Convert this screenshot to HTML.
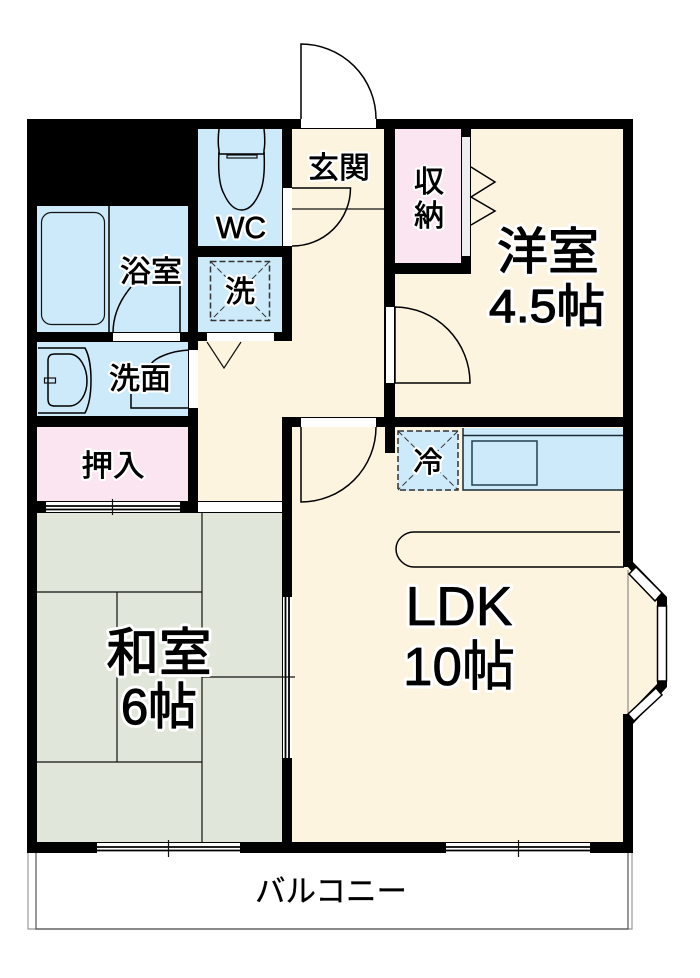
<!DOCTYPE html>
<html><head><meta charset="utf-8">
<style>
html,body{margin:0;padding:0;background:#fff;width:700px;height:978px;overflow:hidden}
svg{display:block}
text{font-family:"Liberation Sans","Noto Sans CJK JP",sans-serif;text-anchor:middle}
.h text{fill:#fff;stroke:#fff;stroke-linejoin:round}
.k text{fill:#000;stroke:#000;stroke-linejoin:round}
.l{fill:none;stroke:#000;stroke-width:1.5}
.m{fill:none;stroke:#000;stroke-width:1.8}
.t{fill:none;stroke:#111;stroke-width:1.2}
.d{fill:none;stroke:#333;stroke-width:1.5;stroke-dasharray:6 3}
.x{fill:none;stroke:#333;stroke-width:1;stroke-dasharray:6 3}
.w{fill:#fff}
.wb{fill:#fff;stroke:#000;stroke-width:1.5}
</style></head><body>
<svg width="700" height="978" viewBox="0 0 700 978" xmlns="http://www.w3.org/2000/svg">
<defs></defs>
<!-- balcony -->
<path d="M28 853V929H632V853" fill="none" stroke="#999" stroke-width="1.2"/>
<path d="M36 853V929H628V853" fill="none" stroke="#555" stroke-width="1.2"/>
<!-- floor fills -->
<rect x="27" y="119" width="606" height="734" fill="#000"/>
<rect x="37" y="206" width="151" height="126" fill="#cdeafa"/>
<rect x="198" y="129" width="84" height="117" fill="#cdeafa"/>
<rect x="198" y="257" width="84" height="75" fill="#cdeafa"/>
<rect x="37" y="342" width="151" height="74" fill="#cdeafa"/>
<rect x="37" y="427" width="151" height="74" fill="#fbe5f0"/>
<rect x="395" y="129" width="66" height="134" fill="#fbe5f0"/>
<rect x="37" y="513" width="245" height="329" fill="#e0e6d9"/>
<rect x="292" y="129" width="92" height="212" fill="#fdf4e0"/>
<rect x="198" y="341" width="186" height="76" fill="#fdf4e0"/>
<rect x="198" y="417" width="84" height="84" fill="#fdf4e0"/>
<path d="M471 129H623V417H395V274H471Z" fill="#fdf4e0"/>
<rect x="292" y="427" width="331" height="415" fill="#fdf4e0"/>
<!-- bay: opening in the right wall -->
<path d="M620 567H628L657 600V684L628 714H620Z" fill="#fdf4e0"/>
<rect x="385" y="341" width="10" height="76" fill="#000"/>
<rect x="385" y="427" width="10" height="26" fill="#000"/>
<!-- white openings -->
<rect class="w" x="301" y="119" width="75" height="9"/>
<rect class="w" x="283" y="188" width="9" height="58"/>
<rect class="w" x="113" y="333" width="67" height="8"/>
<rect class="w" x="207" y="333" width="67" height="8"/>
<rect class="w" x="189" y="350" width="9" height="58"/>
<rect class="w" x="198" y="502" width="84" height="10"/>
<rect class="w" x="301" y="418" width="75" height="9"/>
<rect class="w" x="386" y="307" width="8" height="76"/>
<rect x="462" y="137" width="8" height="119" fill="#eee"/>
<!-- windows -->
<g>
<rect class="w" x="46" y="502" width="134" height="10"/><path class="m" d="M46 506H180M46 509.500H180"/><path class="t" d="M112.500 499V515"/>
<rect class="w" x="97" y="843" width="143" height="10"/><path class="m" d="M97 847H240M97 850.500H240"/><path class="t" d="M168.500 840V857"/>
<rect class="w" x="446" y="843" width="144" height="10"/><path class="m" d="M446 847H590M446 850.500H590"/><path class="t" d="M518.500 840V857"/>
<rect class="w" x="283" y="597" width="9" height="161"/><path class="m" d="M285.500 597V758M289 597V758"/>
</g>
<!-- tatami -->
<path class="t" d="M202 513V842M37 592H202M117 592V762M37 762H202M202 677H295"/>
<!-- doors -->
<path class="l" d="M301 119V44A75 75 0 0 1 376 119"/>
<path class="l" d="M292 188H350.500A58 58 0 0 1 292 246"/>
<path class="t" d="M292 209H384"/>
<path class="l" d="M395 307A75.500 76 0 0 1 470 383H395Z"/>
<path class="l" d="M376 427A75 75 0 0 1 301 502V427"/>
<path class="l" d="M471 167L495 182L471 197L495 211L471 225"/>
<path class="t" d="M207 342L224 368L241 342"/>
<!-- bath -->
<path d="M109 206V332" stroke="#000" stroke-width="1.5"/>
<rect class="t" x="41.500" y="212.500" width="63" height="112" rx="10"/>
<path class="l" d="M113 333C113 315 120 300 131 287"/>
<path class="l" d="M180 286V333"/>
<!-- WC -->
<path class="l" d="M219 129C218 136 218 146 219 150V154H264V150C265 146 265 136 264 129"/>
<path class="l" d="M219 152C218 170 219 185 224 194C229 205 235 210 241.500 210C248 210 254 205 259 194C264 185 265 170 264 152"/>
<rect class="t" x="227" y="155" width="30" height="3" fill="#cdeafa"/>
<!-- washer -->
<rect class="d" x="210.500" y="261.500" width="59" height="59"/>
<path class="x" d="M211 262L269 320M269 262L211 320"/>
<!-- washbasin -->
<path class="l" d="M38 348H85C93 362 93 398 85 413H38"/>
<path class="l" d="M48 361C48 355 51 354 55 354H69C80 354 87 368 87 381C87 394 80 406 69 406H55C51 406 48 405 48 399Z"/>
<rect class="t" x="44.500" y="378" width="11" height="5" fill="#cdeafa"/>
<path class="l" d="M189 350C170 351 155 358 151 364"/>
<path class="l" d="M131 394V408H188"/>
<!-- fridge -->
<rect x="398" y="431" width="60" height="60" fill="#cdeafa"/>
<rect class="d" x="398" y="431" width="60" height="59" stroke-width="1.7"/>
<path class="x" d="M398 431L458 490M458 431L398 490"/>
<!-- kitchen -->
<rect x="463" y="428" width="160" height="62" fill="#cdeafa"/>
<path d="M463 428V490H623M463 435.500H623" fill="none" stroke="#1a2a33" stroke-width="1.5"/>
<rect x="472" y="441" width="65" height="44" fill="none" stroke="#25404f" stroke-width="1.5"/>
<!-- counter -->
<path class="l" d="M620 532H414C405 532 396 539 396 549C396 559 405 567 414 567H624"/>
<!-- bay window -->
<path d="M628 570V714" stroke="#777" stroke-width="1"/>
<path d="M628 567L633 562L667 597V687L633 724L628 714L657 684V601Z" fill="#000"/>
<path class="wb" d="M636 567L662 593L655 601L629 574Z"/>
<rect class="wb" x="657.500" y="606" width="9" height="75"/>
<path class="wb" d="M656 688L662 695L634 721L628 714Z"/>
<!-- labels: white halo layer -->
<g class="h">
<text x="339" y="178" font-size="30" stroke-width="5" textLength="62" lengthAdjust="spacingAndGlyphs">玄関</text>
<text x="429" y="192" font-size="30" stroke-width="5">収</text>
<text x="429" y="226" font-size="30" stroke-width="5">納</text>
<text x="548" y="269" font-size="50" stroke-width="7" textLength="102" lengthAdjust="spacingAndGlyphs">洋室</text>
<text x="547" y="322" font-size="46" stroke-width="7" textLength="116" lengthAdjust="spacingAndGlyphs">4.5帖</text>
<text x="241" y="238" font-size="31" stroke-width="5" textLength="50" lengthAdjust="spacingAndGlyphs">WC</text>
<text x="151" y="282" font-size="30" stroke-width="5" textLength="62" lengthAdjust="spacingAndGlyphs">浴室</text>
<text x="240" y="302" font-size="30" stroke-width="5">洗</text>
<text x="140" y="389" font-size="30" stroke-width="5" textLength="62" lengthAdjust="spacingAndGlyphs">洗面</text>
<text x="113" y="476" font-size="30" stroke-width="5" textLength="63" lengthAdjust="spacingAndGlyphs">押入</text>
<text x="428" y="472" font-size="29" stroke-width="5">冷</text>
<text x="159" y="671" font-size="52" stroke-width="7" textLength="105" lengthAdjust="spacingAndGlyphs">和室</text>
<text x="159" y="724" font-size="50" stroke-width="7" textLength="76" lengthAdjust="spacingAndGlyphs">6帖</text>
<text x="459" y="625" font-size="55" stroke-width="7" textLength="107" lengthAdjust="spacingAndGlyphs">LDK</text>
<text x="459" y="685" font-size="54" stroke-width="7" textLength="112" lengthAdjust="spacingAndGlyphs">10帖</text>
</g>
<!-- labels: ink layer -->
<g class="k">
<text x="339" y="178" font-size="30" stroke-width=".7" textLength="62" lengthAdjust="spacingAndGlyphs">玄関</text>
<text x="429" y="192" font-size="30" stroke-width=".7">収</text>
<text x="429" y="226" font-size="30" stroke-width=".7">納</text>
<text x="548" y="269" font-size="50" stroke-width="1.2" textLength="102" lengthAdjust="spacingAndGlyphs">洋室</text>
<text x="547" y="322" font-size="46" stroke-width="1.2" textLength="116" lengthAdjust="spacingAndGlyphs">4.5帖</text>
<text x="241" y="238" font-size="31" stroke-width=".7" textLength="50" lengthAdjust="spacingAndGlyphs">WC</text>
<text x="151" y="282" font-size="30" stroke-width=".7" textLength="62" lengthAdjust="spacingAndGlyphs">浴室</text>
<text x="240" y="302" font-size="30" stroke-width=".7">洗</text>
<text x="140" y="389" font-size="30" stroke-width=".7" textLength="62" lengthAdjust="spacingAndGlyphs">洗面</text>
<text x="113" y="476" font-size="30" stroke-width=".7" textLength="63" lengthAdjust="spacingAndGlyphs">押入</text>
<text x="428" y="472" font-size="29" stroke-width=".7">冷</text>
<text x="159" y="671" font-size="52" stroke-width="1.2" textLength="105" lengthAdjust="spacingAndGlyphs">和室</text>
<text x="159" y="724" font-size="50" stroke-width="1.2" textLength="76" lengthAdjust="spacingAndGlyphs">6帖</text>
<text x="459" y="625" font-size="55" stroke-width=".8" textLength="107" lengthAdjust="spacingAndGlyphs">LDK</text>
<text x="459" y="685" font-size="54" stroke-width=".8" textLength="112" lengthAdjust="spacingAndGlyphs">10帖</text>
<text x="331" y="902" font-size="31" stroke-width=".3" textLength="152" lengthAdjust="spacingAndGlyphs">バルコニー</text>
</g>
</svg>
</body></html>
